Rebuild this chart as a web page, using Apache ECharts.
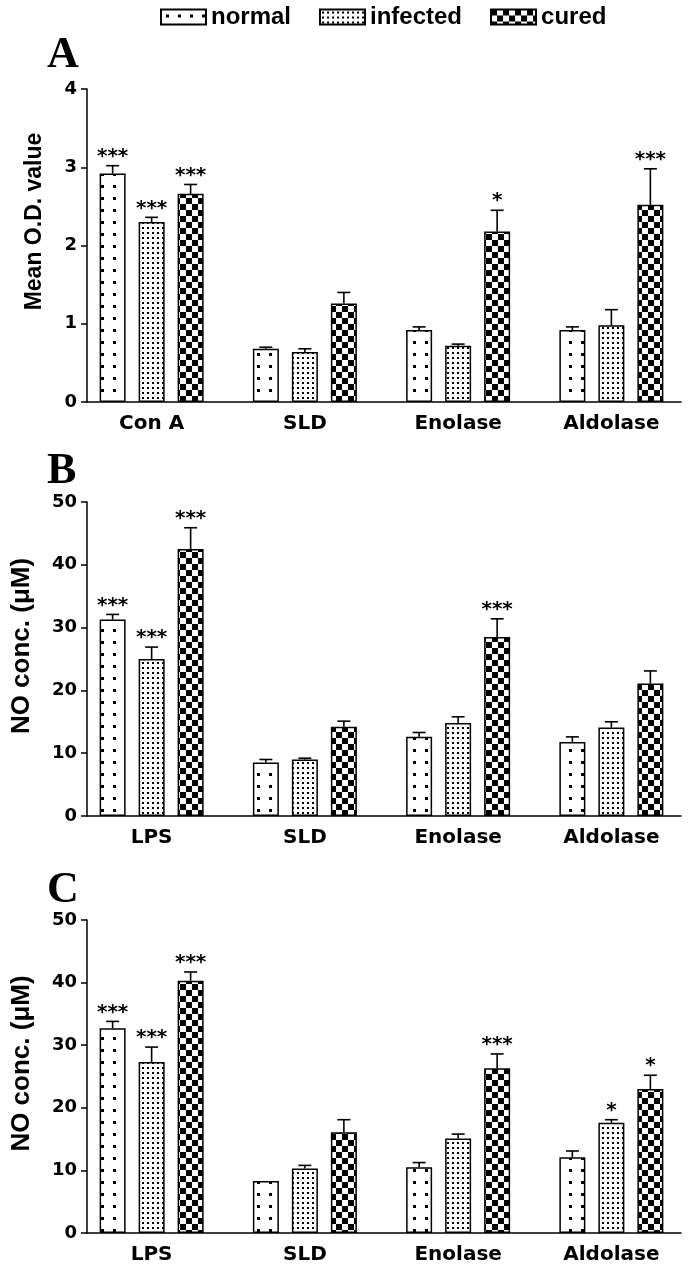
<!DOCTYPE html>
<html>
<head>
<meta charset="utf-8">
<script src="https://cdn.jsdelivr.net/npm/echarts@6/dist/echarts.min.js"></script>
<style>
  html, body { margin: 0; padding: 0; background: #fff; }
  #chart { width: 688px; height: 1269px; }
</style>
</head>
<body>
<div id="chart"></div>
<script>
// groups + categories
var groups = ['normal', 'infected', 'cured'];
var catsA = ['Con A', 'SLD', 'Enolase', 'Aldolase'];
var catsBC = ['LPS', 'SLD', 'Enolase', 'Aldolase'];

// A - mean O.D. value
var aNormal = [2.92, 0.68, 0.92, 0.92];
var aNormalErr = [0.10, 0.02, 0.04, 0.04];
var aInfected = [2.30, 0.64, 0.72, 0.98];
var aInfectedErr = [0.06, 0.04, 0.02, 0.20];
var aCured = [2.66, 1.26, 2.18, 2.52];
var aCuredErr = [0.12, 0.14, 0.27, 0.46];
var aNormalSig = ['***', '', '', ''];
var aInfectedSig = ['***', '', '', ''];
var aCuredSig = ['***', '', '*', '***'];

// B - NO conc. (uM)
var bNormal = [31.3, 8.5, 12.6, 11.8];
var bNormalErr = [0.8, 0.5, 0.7, 0.8];
var bInfected = [25.0, 9.0, 14.8, 14.1];
var bInfectedErr = [1.9, 0.2, 1.0, 0.9];
var bCured = [42.5, 14.2, 28.5, 21.1];
var bCuredErr = [3.4, 0.9, 2.9, 2.0];
var bNormalSig = ['***', '', '', ''];
var bInfectedSig = ['***', '', '', ''];
var bCuredSig = ['***', '', '***', ''];

// C - NO conc. (uM)
var cNormal = [32.7, 8.3, 10.5, 12.1];
var cNormalErr = [1.1, 0, 0.75, 1.0];
var cInfected = [27.3, 10.3, 15.1, 17.6];
var cInfectedErr = [2.4, 0.5, 0.7, 0.5];
var cCured = [40.3, 16.1, 26.3, 23.0];
var cCuredErr = [1.4, 2.0, 2.3, 2.2];
var cNormalSig = ['***', '', '', ''];
var cInfectedSig = ['***', '', '', '*'];
var cCuredSig = ['***', '', '***', '*'];

// fill patterns (dots / dense dots / checker)
function tile(size, draw) {
  var c = document.createElement('canvas');
  c.width = size; c.height = size;
  var ctx = c.getContext('2d');
  ctx.fillStyle = '#fff';
  ctx.fillRect(0, 0, size, size);
  ctx.fillStyle = '#000';
  draw(ctx);
  return { image: c, repeat: 'repeat' };
}
var patterns = [
  tile(12, function (ctx) { ctx.fillRect(5, 5, 3, 3); }),
  tile(5, function (ctx) { ctx.fillRect(2, 2, 2, 2); }),
  tile(12, function (ctx) { ctx.fillRect(0, 0, 6, 6); ctx.fillRect(6, 6, 6, 6); })
];

var panels = [
  { letter: 'A', cats: catsA, vals: [aNormal, aInfected, aCured], errs: [aNormalErr, aInfectedErr, aCuredErr],
    sigs: [aNormalSig, aInfectedSig, aCuredSig], max: 4, step: 1, name: 'Mean O.D. value',
    top: 89, height: 313, letterTop: 34, nameSize: 23, nameGap: 41, shift: 48 },
  { letter: 'B', cats: catsBC, vals: [bNormal, bInfected, bCured], errs: [bNormalErr, bInfectedErr, bCuredErr],
    sigs: [bNormalSig, bInfectedSig, bCuredSig], max: 50, step: 10, name: 'NO conc. (μM)',
    top: 502, height: 314, letterTop: 450, nameSize: 26, nameGap: 52, shift: 26 },
  { letter: 'C', cats: catsBC, vals: [cNormal, cInfected, cCured], errs: [cNormalErr, cInfectedErr, cCuredErr],
    sigs: [cNormalSig, cInfectedSig, cCuredSig], max: 50, step: 10, name: 'NO conc. (μM)',
    top: 920, height: 313, letterTop: 869, nameSize: 26, nameGap: 52, shift: 26 }
];

var black = { color: '#000', width: 1.5 };
var grid = [], xAxis = [], yAxis = [], series = [], title = [];

panels.forEach(function (p, i) {
  var g = i * 2;
  // bars grid + a second one only for the x axis line
  grid.push({ left: 75, top: p.top, width: 616, height: p.height });
  grid.push({ left: 87, right: 7, top: p.top, height: p.height });

  xAxis.push({
    gridIndex: g, type: 'category', data: p.cats,
    axisLine: { show: false }, axisTick: { show: false },
    axisLabel: { color: '#000', fontFamily: 'DejaVu Sans', fontWeight: 'bold', fontSize: 20, margin: 12 }
  });
  xAxis.push({
    gridIndex: g + 1, type: 'value', min: 0, max: 1,
    axisLine: { show: true, onZero: false, lineStyle: black },
    axisTick: { show: false }, axisLabel: { show: false }, splitLine: { show: false }
  });
  yAxis.push({
    gridIndex: g, type: 'value', min: 0, max: p.max, interval: p.step, offset: -12,
    name: p.name, nameLocation: 'middle', nameGap: p.nameGap,
    nameTextStyle: { color: '#000', fontFamily: 'Liberation Sans', fontWeight: 'bold',
      fontSize: p.nameSize, padding: [0, 0, 0, p.shift] },
    axisLine: { show: true, lineStyle: black },
    axisTick: { show: true, length: 6, lineStyle: black },
    axisLabel: { color: '#000', fontFamily: 'DejaVu Sans', fontWeight: 'bold', fontSize: 18, margin: 10 },
    splitLine: { show: false }
  });
  yAxis.push({ gridIndex: g + 1, type: 'value', show: false });

  title.push({
    text: p.letter, left: 47, top: p.letterTop, padding: 0,
    textStyle: { fontFamily: 'Liberation Serif', fontWeight: 'bold', fontSize: 44, color: '#000' }
  });

  groups.forEach(function (name, k) {
    series.push({
      type: 'bar', name: name, xAxisIndex: g, yAxisIndex: g,
      data: p.vals[k], barWidth: 26, barGap: '50%', silent: true,
      itemStyle: { color: patterns[k], borderColor: '#000', borderWidth: 1.5 }
    });
  });

  // error bars + significance stars
  var eb = [], lab = [];
  groups.forEach(function (name, k) {
    p.vals[k].forEach(function (v, c) {
      eb.push([c, v, p.errs[k][c], k]);
      lab.push(p.sigs[k][c]);
    });
  });
  series.push({
    type: 'custom', xAxisIndex: g, yAxisIndex: g, data: eb, encode: { x: 0, y: 1 },
    z: 5, silent: true,
    renderItem: function (params, api) {
      var c = api.value(0), v = api.value(1), e = api.value(2), k = api.value(3);
      var b = api.coord([c, v]), t = api.coord([c, v + e]);
      var x = b[0] + (k - 1) * 39;
      var ch = [];
      if (e > 0) {
        ch.push({ type: 'line', shape: { x1: x, y1: b[1], x2: x, y2: t[1] }, style: { stroke: '#000', lineWidth: 1.6 } });
        ch.push({ type: 'line', shape: { x1: x - 6.5, y1: t[1], x2: x + 6.5, y2: t[1] }, style: { stroke: '#000', lineWidth: 1.6 } });
      }
      var s = lab[params.dataIndex];
      if (s) {
        ch.push({ type: 'text', style: { text: s, x: x, y: t[1] - 9, fill: '#000', fontSize: 20,
          fontWeight: 'bold', fontFamily: 'DejaVu Sans', align: 'center', verticalAlign: 'middle' } });
      }
      return { type: 'group', children: ch };
    }
  });
});

var chart = echarts.init(document.getElementById('chart'), null, { renderer: 'canvas' });
chart.setOption({
  animation: false,
  backgroundColor: '#fff',
  title: title,
  legend: {
    data: groups, left: 160, top: 5, icon: 'rect', itemWidth: 45, itemHeight: 15, itemGap: 28,
    padding: 0, selectedMode: false,
    textStyle: { fontFamily: 'Liberation Sans', fontWeight: 'bold', fontSize: 24, color: '#000' }
  },
  grid: grid,
  xAxis: xAxis,
  yAxis: yAxis,
  series: series
});
</script>
</body>
</html>
